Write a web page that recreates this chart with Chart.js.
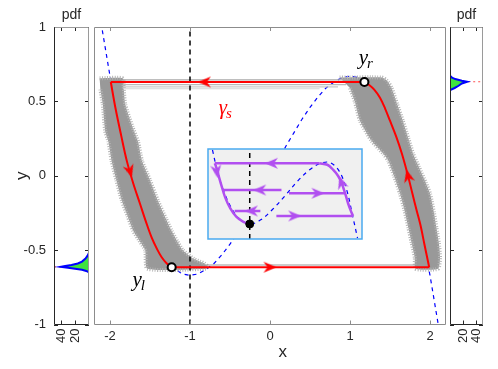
<!DOCTYPE html>
<html><head><meta charset="utf-8">
<script src="https://cdn.jsdelivr.net/npm/chart.js@4.4.1/dist/chart.umd.min.js"></script>
<style>
html,body{margin:0;padding:0;background:#fff;}
#wrap{position:relative;width:498px;height:369px;overflow:hidden;background:#fff;}
canvas{position:absolute;left:0;top:0;}
</style></head><body>
<div id="wrap">
<canvas id="cL" width="498" height="369"></canvas>
<canvas id="cM" width="498" height="369"></canvas>
<canvas id="cR" width="498" height="369"></canvas>
<canvas id="cI" width="498" height="369"></canvas>
</div>
<script>
// ---------- tick labels ----------
const mainXTicks = [-2, -1, 0, 1, 2];
const pdfTicks = [20, 40];
const yTicks = [-1, -0.5, 0, 0.5, 1];

// ---------- main panel ----------
const cubicX = [-2.2,-2.1,-2.0,-1.9,-1.8,-1.7,-1.6,-1.5,-1.4,-1.3,-1.2,-1.1,-1.0,-0.9,-0.8,-0.7,-0.6,-0.5,-0.4,-0.3,-0.2,-0.1,0,
                0.1,0.2,0.3,0.4,0.5,0.6,0.7,0.8,0.9,1.0,1.1,1.2,1.3,1.4,1.5,1.6,1.7,1.8,1.9,2.0,2.1,2.2];
const cubicY = [1.35,0.99,0.67,0.39,0.14,-0.06,-0.23,-0.38,-0.49,-0.57,-0.62,-0.66,-0.67,-0.66,-0.63,-0.59,-0.53,-0.46,-0.38,-0.29,-0.20,-0.10,0,
                0.10,0.20,0.29,0.38,0.46,0.53,0.59,0.63,0.66,0.67,0.66,0.62,0.57,0.49,0.38,0.23,0.06,-0.14,-0.39,-0.67,-0.99,-1.35];

const redLeftX = [-1.99,-1.93,-1.86,-1.79,-1.71,-1.625,-1.55,-1.48,-1.41,-1.354,-1.29,-1.229];
const redLeftY = [0.63,0.45,0.27,0.10,-0.05,-0.188,-0.31,-0.414,-0.495,-0.548,-0.59,-0.615];
const redRightX = [1.99,1.93,1.88,1.834,1.78,1.725,1.65,1.58,1.5,1.44,1.375,1.3,1.24,1.18];
const redRightY = [-0.615,-0.46,-0.33,-0.235,-0.12,0.0,0.146,0.26,0.37,0.45,0.525,0.58,0.61,0.63];
const redBottomX = [-1.229, 1.99];
const redBottomY = [-0.615, -0.615];
const redTopX = [1.18, -1.99];
const redTopY = [0.63, 0.63];

const arrowX = [-0.82, 0.0, -1.75, 1.725];
const arrowY = [0.63, -0.615, 0.03, 0.0];
const arrowRot = [270, 90, 163, 346];

const markX = [-1.229, 1.18];
const markY = [-0.615, 0.63];

const vlineX = [-1, -1];
const vlineY = [-1, 1];

const bandLX = [-2.13,-1.84,-1.83,-1.81,-1.72,-1.65,-1.6,-1.5,-1.4,-1.3,-1.23,-1.16,-1.09,-0.95,-0.82,-0.78,-0.8,-1.53,
                -1.56,-1.64,-1.71,-1.78,-1.85,-1.92,-1.98,-2.02,-2.06,-2.09,-2.12];
const bandLY = [0.655,0.655,0.6,0.48,0.33,0.23,0.10,-0.03,-0.17,-0.29,-0.37,-0.44,-0.5,-0.56,-0.59,-0.61,-0.625,-0.625,
                -0.5,-0.43,-0.37,-0.27,-0.17,-0.03,0.10,0.23,0.30,0.48,0.58];
const bandRX = [0.87,1.40,1.46,1.52,1.59,1.66,1.73,1.79,1.86,1.95,2.0,2.05,2.08,2.11,2.125,2.1,1.82,
                1.81,1.77,1.73,1.68,1.625,1.55,1.48,1.42,1.27,1.125,1.06,1.0];
const bandRY = [0.66,0.66,0.64,0.59,0.48,0.37,0.25,0.146,0.06,-0.05,-0.12,-0.25,-0.35,-0.45,-0.55,-0.625,-0.625,
                -0.55,-0.45,-0.35,-0.23,-0.12,0.0,0.1,0.146,0.235,0.37,0.5,0.59];

const greyLineY  = [0.645, 0.612, 0.598, 0.585, -0.60];
const greyLineX0 = [-1.84, -1.84, -1.84, -1.84, -0.8];
const greyLineX1 = [1.0, 0.95, 0.85, 0.62, 1.85];
const greyLineCol = ['#a8a8a8', '#b8b8b8', '#c8c8c8', '#d4d4d4', '#9a9a9a'];

const annText = ['y', 'y', 'γ'];
const annSub = ['r', 'l', 's'];
const annX = [1.11, -1.72, -0.64];
const annY = [0.752, -0.738, 0.416];
const annColor = ['#000', '#000', '#ff0000'];

// ---------- pdf panels ----------
const leftPdfVal = [0, 2, 5, 10, 16, 25, 34, 40, 30, 20, 10, 4, 0, 0];
const leftPdfY = [-0.517,-0.537,-0.557,-0.577,-0.59,-0.60,-0.607,-0.612,-0.618,-0.625,-0.632,-0.64,-0.65,-0.517];
const leftPeakY = -0.612;
const rightPdfVal = [0, 3, 8, 18, 26, 18, 13, 7, 0, 0];
const rightPdfY = [0.672, 0.660, 0.650, 0.639, 0.632, 0.620, 0.605, 0.590, 0.576, 0.672];
const rightPeakY = 0.632;
const pdfRange = [0, 50];

// ---------- inset (cartoon, own 0..10 units) ----------
const insetBlueX = [0.29,0.6,1.0,1.5,2.0,2.71,3.4,4.2,5.0,5.8,6.6,7.3,7.9,8.5,9.0,9.4,9.71];
const insetBlueY = [9.9,7.6,5.4,3.5,2.3,1.67,2.1,3.3,4.8,6.4,7.7,8.4,8.5,7.6,5.5,2.5,0.1];
const insetTopX = [7.24, 0.44], insetTopY = [8.41, 8.41];
const insetLeftX = [0.44,0.55,0.68,0.88,1.12,1.45,1.85,2.3,2.71];
const insetLeftY = [8.41,7.9,7.1,5.9,4.6,3.4,2.45,1.9,1.67];
const insetRightX = [7.24,7.75,8.12,8.45,8.66,8.9,9.09,9.28,9.42];
const insetRightY = [8.41,8.25,7.7,7.0,6.3,5.1,4.0,3.1,2.56];
const insetHX0 = [9.42, 4.77, 5.26, 3.40];
const insetHX1 = [4.44, 0.97, 8.88, 1.73];
const insetHY = [2.56, 5.44, 5.08, 3.11];
const insetArrowX = [4.12, 0.56, 8.66, 3.36, 7.14, 2.82, 5.63];
const insetArrowY = [8.41, 7.5, 6.3, 5.44, 5.08, 3.11, 2.56];
const insetArrowRot = [270, 172, 342, 270, 90, 270, 90];
const insetDotX = [2.71], insetDotY = [1.67];
const insetVX = [2.71, 2.71], insetVY = [0, 10];

// ---------- helpers ----------
const pts = (xs, ys) => xs.map((x, i) => ({x: x, y: ys[i]}));
Chart.defaults.font.family = '"Liberation Sans", Arial, Helvetica, sans-serif';
Chart.defaults.color = '#262626';
Chart.defaults.elements.point.radius = 0;
Chart.defaults.elements.point.hoverRadius = 0;

function arrowHead(color, len, wid) {
  const c = document.createElement('canvas');
  const s = Math.ceil(Math.max(len, wid)) + 2;
  c.width = s; c.height = s;
  const g = c.getContext('2d');
  const cx = s / 2, cy = s / 2;
  g.fillStyle = color;
  g.beginPath();
  g.moveTo(cx, cy - len / 2);
  g.lineTo(cx + wid / 2, cy + len / 2);
  g.lineTo(cx, cy + len / 2 - len * 0.3);
  g.lineTo(cx - wid / 2, cy + len / 2);
  g.closePath();
  g.fill();
  return c;
}
const redArrow = arrowHead('#ff0000', 13, 11);
const purArrow = arrowHead('#b14ff0', 13, 11);

function noGrid(extra) {
  return Object.assign({grid: {display: false, drawTicks: false}, border: {display: false}}, extra);
}
function baseOpts(padding, scales) {
  return {
    responsive: false, maintainAspectRatio: false, devicePixelRatio: 1, animation: false, events: [],
    layout: {padding: padding}, scales: scales,
    plugins: {legend: {display: false}, tooltip: {enabled: false}}
  };
}
function line(xs, ys, color, width, extra) {
  return Object.assign({data: pts(xs, ys), borderColor: color, borderWidth: width, pointRadius: 0, fill: false, tension: 0}, extra || {});
}
function drawBox(ctx, a, cols) {
  ctx.save(); ctx.lineWidth = 1;
  const L = Math.round(a.left) + 0.5, R = Math.round(a.right) - 0.5, T = Math.round(a.top) + 0.5, B = Math.round(a.bottom) - 0.5;
  const seg = (c, x1, y1, x2, y2) => { ctx.strokeStyle = c; ctx.beginPath(); ctx.moveTo(x1, y1); ctx.lineTo(x2, y2); ctx.stroke(); };
  seg(cols[2], L, T, R, T);
  seg(cols[3], R, T, R, B);
  seg(cols[0], L, T, L, B);
  seg(cols[1], L, B, R, B);
  ctx.restore();
}
function drawTicks(ctx, a, xs, xv, ys, yv, len, color) {
  ctx.save(); ctx.strokeStyle = color; ctx.lineWidth = 1; ctx.beginPath();
  (xv || []).forEach(v => {
    const p = Math.round(xs.getPixelForValue(v)) + 0.5;
    ctx.moveTo(p, a.bottom); ctx.lineTo(p, a.bottom - len);
    ctx.moveTo(p, a.top); ctx.lineTo(p, a.top + len);
  });
  (yv || []).forEach(v => {
    const p = Math.round(ys.getPixelForValue(v)) + 0.5;
    ctx.moveTo(a.left, p); ctx.lineTo(a.left + len, p);
    ctx.moveTo(a.right, p); ctx.lineTo(a.right - len, p);
  });
  ctx.stroke(); ctx.restore();
}

// ---------- main chart ----------
const bandStyle = {fill: 'shape', backgroundColor: '#999999', tension: 0.2, borderDash: [1, 1.5]};
const mainDatasets = [];
mainDatasets.push({data: pts(arrowX, arrowY), showLine: false, pointStyle: redArrow, pointRadius: 6, pointRotation: arrowRot});
mainDatasets.push({data: pts(markX, markY), showLine: false, pointStyle: 'circle', pointRadius: 4, pointBorderWidth: 2,
  pointBorderColor: '#000', pointBackgroundColor: '#fff'});
mainDatasets.push(line(redLeftX, redLeftY, '#ff0000', 2, {tension: 0.35}));
mainDatasets.push(line(redBottomX, redBottomY, '#ff0000', 2));
mainDatasets.push(line(redRightX, redRightY, '#ff0000', 2, {tension: 0.35}));
mainDatasets.push(line(redTopX, redTopY, '#ff0000', 2));
mainDatasets.push(line(vlineX, vlineY, '#000', 1.5, {borderDash: [5, 4]}));
greyLineY.forEach((y, i) => mainDatasets.push(line([greyLineX0[i], greyLineX1[i]], [y, y], greyLineCol[i], 1.2)));
mainDatasets.push(line(bandLX, bandLY, '#b4b4b4', 4, bandStyle));
mainDatasets.push(line(bandRX, bandRY, '#b4b4b4', 4, bandStyle));
mainDatasets.push(line(cubicX, cubicY, '#0000ff', 1.2, {borderDash: [4, 4], clip: 0}));

const mainPlugin = {
  id: 'mainDeco',
  afterDatasetsDraw(chart) {
    const {ctx, chartArea: a, scales} = chart;
    const xs = scales.x, ys = scales.y;
    drawTicks(ctx, a, xs, mainXTicks, ys, [], 4, '#8c8c8c');
    drawBox(ctx, a, ['#8c8c8c', '#8c8c8c', '#8c8c8c', '#8c8c8c']);
    ctx.save();
    annText.forEach((t, i) => {
      const px = xs.getPixelForValue(annX[i]), py = ys.getPixelForValue(annY[i]);
      ctx.fillStyle = annColor[i];
      ctx.textBaseline = 'alphabetic'; ctx.textAlign = 'left';
      ctx.font = 'italic 21px "Liberation Serif", serif';
      ctx.fillText(t, px, py);
      const w = ctx.measureText(t).width;
      ctx.font = 'italic 15px "Liberation Serif", serif';
      ctx.fillText(annSub[i], px + w - 1, py + 4);
    });
    ctx.fillStyle = '#262626';
    ctx.font = '17px "Liberation Sans", Arial, sans-serif';
    ctx.textAlign = 'center'; ctx.textBaseline = 'middle';
    ctx.fillText('x', xs.getPixelForValue(0.16), a.bottom + 28);
    ctx.restore();
  }
};

new Chart(document.getElementById('cM'), {
  type: 'line',
  data: {datasets: mainDatasets},
  options: baseOpts({left: 94, right: 52, top: 27, bottom: 14.5}, {
    x: noGrid({type: 'linear', min: -2.2, max: 2.2,
      afterBuildTicks: s => { s.ticks = mainXTicks.map(v => ({value: v})); },
      afterFit: s => { s.height = 30; },
      ticks: {padding: 4, color: '#262626', font: {size: 13}, maxRotation: 0, minRotation: 0, autoSkip: false,
        callback: v => String(v)}}),
    y: {type: 'linear', min: -1, max: 1, display: false}
  }),
  plugins: [mainPlugin]
});

// ---------- pdf charts ----------
function pdfChart(id, vals, ys, peakY, padding, showY, reverse, redFrom, redTo) {
  const ds = [
    line(vals, ys, '#0000ff', 2, {fill: 'shape', backgroundColor: '#3fe33f'}),
    line([redFrom, redTo], [peakY, peakY], '#ff5050', 1.2, {borderDash: [2, 3]})
  ];
  const plugin = {
    id: 'pdfDeco' + id,
    afterDatasetsDraw(chart) {
      const {ctx, chartArea: a, scales} = chart;
      drawTicks(ctx, a, scales.x, pdfTicks, scales.y, yTicks, 4, '#262626');
      drawBox(ctx, a, ['#262626', '#262626', '#9a9a9a', '#9a9a9a']);
      ctx.save();
      ctx.fillStyle = '#262626';
      ctx.font = '14px "Liberation Sans", Arial, sans-serif';
      ctx.textAlign = 'center'; ctx.textBaseline = 'alphabetic';
      ctx.fillText('pdf', (a.left + a.right) / 2, a.top - 8);
      if (showY) {
        ctx.translate(a.left - 32, (a.top + a.bottom) / 2);
        ctx.rotate(-Math.PI / 2);
        ctx.font = '17px "Liberation Sans", Arial, sans-serif';
        ctx.textBaseline = 'middle';
        ctx.fillText('y', 0, 0);
      }
      ctx.restore();
    }
  };
  return new Chart(document.getElementById(id), {
    type: 'line',
    data: {datasets: ds},
    options: baseOpts(padding, {
      x: noGrid({type: 'linear', min: pdfRange[0], max: pdfRange[1], reverse: reverse,
        afterBuildTicks: s => { s.ticks = pdfTicks.map(v => ({value: v})); },
        afterFit: s => { s.height = 30; },
        ticks: {padding: 4, color: '#262626', font: {size: 13}, minRotation: 90, maxRotation: 90, autoSkip: false,
          callback: v => String(v)}}),
      y: showY ? noGrid({type: 'linear', min: -1, max: 1,
        afterBuildTicks: s => { s.ticks = yTicks.map(v => ({value: v})); },
        afterFit: s => { s.width = 54; },
        ticks: {padding: 8, color: '#262626', font: {size: 13}, autoSkip: false, callback: v => String(v)}})
        : {type: 'linear', min: -1, max: 1, display: false}
    }),
    plugins: [plugin]
  });
}
pdfChart('cL', leftPdfVal, leftPdfY, leftPeakY, {left: 0, right: 409, top: 27, bottom: 14.5}, true, true, pdfRange[1], 30);
pdfChart('cR', rightPdfVal, rightPdfY, rightPeakY, {left: 450, right: 10, top: 27, bottom: 14.5}, false, false, 20, pdfRange[1]);

// ---------- inset chart ----------
const insetDs = [];
insetDs.push({data: pts(insetDotX, insetDotY), showLine: false, pointStyle: 'circle', pointRadius: 4,
  pointBackgroundColor: '#000', pointBorderColor: '#000', pointBorderWidth: 1});
insetDs.push({data: pts(insetArrowX, insetArrowY), showLine: false, pointStyle: purArrow, pointRadius: 6, pointRotation: insetArrowRot});
insetDs.push(line(insetTopX, insetTopY, '#b14ff0', 2.5));
insetDs.push(line(insetLeftX, insetLeftY, '#b14ff0', 2.5, {tension: 0.35}));
insetDs.push(line(insetRightX, insetRightY, '#b14ff0', 2.5, {tension: 0.35}));
insetHY.forEach((y, i) => insetDs.push(line([insetHX0[i], insetHX1[i]], [y, y], '#b14ff0', 2.5)));
insetDs.push(line(insetVX, insetVY, '#000', 1.5, {borderDash: [5, 4]}));
insetDs.push(line(insetBlueX, insetBlueY, '#0000ff', 1.2, {borderDash: [4, 4], tension: 0.35}));

const insetPlugin = {
  id: 'insetDeco',
  beforeDatasetsDraw(chart) {
    const {ctx, chartArea: a} = chart;
    ctx.save(); ctx.fillStyle = '#f0f0f0';
    ctx.fillRect(a.left, a.top, a.right - a.left, a.bottom - a.top);
    ctx.restore();
  },
  afterDatasetsDraw(chart) {
    const {ctx, chartArea: a} = chart;
    ctx.save(); ctx.strokeStyle = '#4aaaf0'; ctx.lineWidth = 1.5;
    ctx.strokeRect(a.left, a.top, a.right - a.left, a.bottom - a.top);
    ctx.restore();
  }
};
new Chart(document.getElementById('cI'), {
  type: 'line',
  data: {datasets: insetDs},
  options: baseOpts({left: 208, right: 136, top: 149, bottom: 130}, {
    x: {type: 'linear', min: 0, max: 10, display: false},
    y: {type: 'linear', min: 0, max: 10, display: false}
  }),
  plugins: [insetPlugin]
});
</script>
</body></html>
